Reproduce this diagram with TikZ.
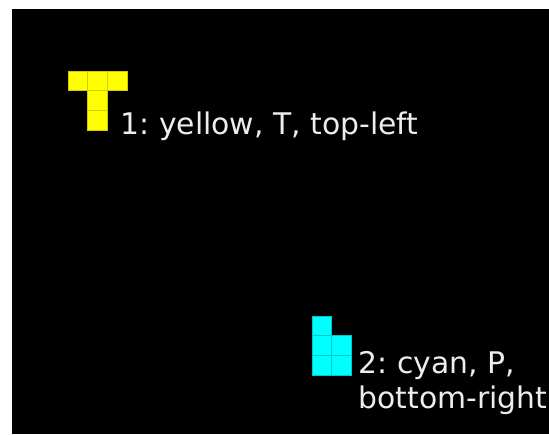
\documentclass[tikz,border=0pt]{standalone}
\usepackage{fontspec}
\setmainfont{DejaVu Sans}
\frenchspacing
\begin{document}
\begin{tikzpicture}[x=1pt,y=-1pt,
  ycell/.style={fill={rgb,255:red,255;green,255;blue,0},draw={rgb,255:red,205;green,205;blue,0},line width=0.7pt},
  ccell/.style={fill={rgb,255:red,0;green,255;blue,255},draw={rgb,255:red,0;green,200;blue,200},line width=0.7pt},
  lbl/.style={anchor=base west,inner sep=0pt,text=white!93!black,font=\fontsize{29.8}{35}\selectfont}]
\useasboundingbox (0,0) rectangle (549,434);
\fill[white] (0,0) rectangle (549,434);
\fill[black] (12,9) rectangle (549,434);
% yellow T
\def\cs{19.8}
\foreach \cx/\cy in {68/71, 87.8/71, 107.6/71, 87.8/90.8, 87.8/110.6}
  \draw[ycell] (\cx,\cy) rectangle ++(\cs,\cs);
% cyan P
\foreach \cx/\cy in {312/316, 312/335.8, 331.8/335.8, 312/355.6, 331.8/355.6}
  \draw[ccell] (\cx,\cy) rectangle ++(\cs,\cs);
\node[lbl] (t1) at (120.5,134) {1: yellow, T, top-left};
\node[lbl] (t2a) at (358.5,373) {2: cyan, P,};
\node[lbl] (t2b) at (358.5,408) {bottom-right};
\end{tikzpicture}
\end{document}
